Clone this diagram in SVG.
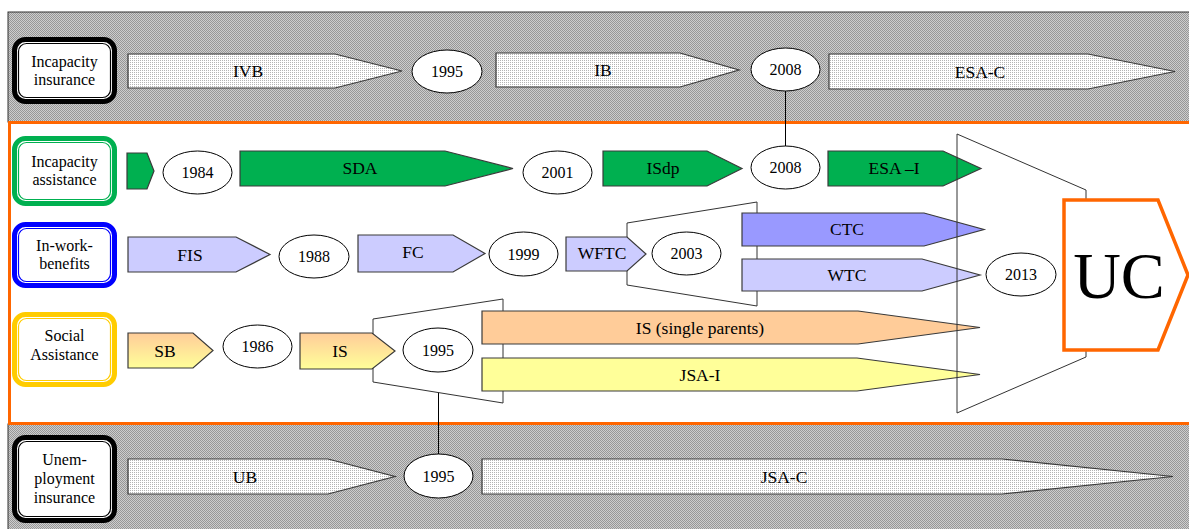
<svg xmlns="http://www.w3.org/2000/svg" width="1189" height="529" viewBox="0 0 1189 529" font-family="Liberation Serif, Tinos, DejaVu Serif, serif">
  <defs>
    <!-- dotted grey band texture -->
    <pattern id="bandDots" width="2" height="2" patternUnits="userSpaceOnUse">
      <rect width="2" height="2" fill="#cdcdcd"/>
      <rect width="1" height="1" fill="#979797"/>
      <rect x="1" y="1" width="1" height="1" fill="#979797"/>
    </pattern>
    <!-- light dotted fill for insurance arrows -->
    <pattern id="lightDots" width="2" height="2" patternUnits="userSpaceOnUse">
      <rect width="2" height="2" fill="#ffffff"/>
      <rect width="1" height="1" fill="#b4b4b4"/>
    </pattern>
    <linearGradient id="saGrad" x1="0" y1="0" x2="0" y2="1">
      <stop offset="0" stop-color="#ffcc99"/>
      <stop offset="1" stop-color="#ffff99"/>
    </linearGradient>
  </defs>
  <style>
    text { font-family: "Liberation Serif", Tinos, "DejaVu Serif", serif; fill: #000; text-anchor: middle; }
    .lbl { font-size: 16px; }
    .arr { font-size: 17.5px; }
    .yr { font-size: 16px; }
    .uc { font-size: 66px; }
    .arrow { stroke: #3a3a3a; stroke-width: 1.2; }
    .ins { fill: url(#lightDots); }
    .green { fill: #00b050; }
    .lav { fill: #ccccff; }
    .ctc { fill: #9999ff; }
    .grad { fill: url(#saGrad); }
    .peach { fill: #ffcc99; }
    .lemon { fill: #ffff99; }
    .year { fill: #fff; stroke: #000; stroke-width: 1; }
    .funnel { fill: #fff; stroke: #333; stroke-width: 1; }
    .outer { fill: #fff; stroke-width: 5; }
    .inner { fill: none; stroke-width: 1.2; }
    .link { stroke: #000; stroke-width: 1; fill: none; }
  </style>

  <!-- background bands -->
  <g id="bands">
    <rect x="8" y="12" width="1190" height="110" fill="url(#bandDots)" stroke="#333" stroke-width="1"/>
    <rect x="8" y="424" width="1190" height="110" fill="url(#bandDots)" stroke="#333" stroke-width="1"/>
    <rect x="9.5" y="122.5" width="1200" height="301" fill="#fff" stroke="#ff6600" stroke-width="3"/>
  </g>

  <!-- row labels -->
  <g id="label-incapacity-insurance">
    <rect class="outer" x="14.5" y="39.5" width="100" height="62" rx="11" stroke="#000"/>
    <rect class="inner" x="18.5" y="43.5" width="92" height="54" rx="8" stroke="#000"/>
    <text class="lbl" x="64.5" y="67">Incapacity</text>
    <text class="lbl" x="64.5" y="85">insurance</text>
  </g>
  <g id="label-incapacity-assistance">
    <rect class="outer" x="14.5" y="138.5" width="100" height="65" rx="11" stroke="#00b050"/>
    <rect class="inner" x="18.5" y="142.5" width="92" height="57" rx="8" stroke="#00b050"/>
    <text class="lbl" x="64.5" y="167">Incapacity</text>
    <text class="lbl" x="64.5" y="185">assistance</text>
  </g>
  <g id="label-in-work-benefits">
    <rect class="outer" x="14.5" y="224.5" width="100" height="61" rx="11" stroke="#0000ff"/>
    <rect class="inner" x="18.5" y="228.5" width="92" height="53" rx="8" stroke="#0000ff"/>
    <text class="lbl" x="64.5" y="251">In-work-</text>
    <text class="lbl" x="64.5" y="269">benefits</text>
  </g>
  <g id="label-social-assistance">
    <rect class="outer" x="14.5" y="314.5" width="100" height="70" rx="11" stroke="#ffcc00"/>
    <rect class="inner" x="18.5" y="318.5" width="92" height="62" rx="8" stroke="#ffcc00"/>
    <text class="lbl" x="64.5" y="341">Social</text>
    <text class="lbl" x="64.5" y="360">Assistance</text>
  </g>
  <g id="label-unemployment-insurance">
    <rect class="outer" x="14.5" y="437.5" width="100" height="83" rx="11" stroke="#000"/>
    <rect class="inner" x="18.5" y="441.5" width="92" height="75" rx="8" stroke="#000"/>
    <text class="lbl" x="64.5" y="465">Unem-</text>
    <text class="lbl" x="64.5" y="484">ployment</text>
    <text class="lbl" x="64.5" y="503">insurance</text>
  </g>

  <!-- connectors between linked years -->
  <g id="connectors">
    <line class="link" x1="785.5" y1="91" x2="785.5" y2="146"/>
    <line class="link" x1="438.5" y1="372" x2="438.5" y2="454"/>
  </g>

  <!-- merge funnels behind the benefit arrows -->
  <g id="funnel-2003">
    <polygon class="funnel" points="627,223 757,202 757,306 627,285"/>
  </g>
  <g id="funnel-1995">
    <polygon class="funnel" points="373,319 503,299 503,403 373,382"/>
  </g>

  <!-- incapacity insurance -->
  <g id="ivb">
    <polygon class="arrow ins" points="128,54 335,54 402,71 335,88 128,88"/>
    <text class="arr" x="248" y="77">IVB</text>
  </g>
  <g id="y1995-ii">
    <ellipse class="year" cx="447" cy="71.5" rx="35" ry="21.5"/>
    <text class="yr" x="447" y="77">1995</text>
  </g>
  <g id="ib">
    <polygon class="arrow ins" points="496,53 680,53 739,70 680,87 496,87"/>
    <text class="arr" x="603" y="76">IB</text>
  </g>
  <g id="y2008-ii">
    <ellipse class="year" cx="785.5" cy="69.5" rx="34.5" ry="21.5"/>
    <text class="yr" x="785.5" y="75">2008</text>
  </g>
  <g id="esa-c">
    <polygon class="arrow ins" points="829,54 1088,54 1175,71.5 1088,89 829,89"/>
    <text class="arr" x="980" y="78">ESA-C</text>
  </g>

  <!-- incapacity assistance -->
  <g id="ia-start">
    <polygon class="arrow green" points="127,153 147,153 154,171 147,189 127,189"/>
  </g>
  <g id="y1984">
    <ellipse class="year" cx="197.5" cy="172.5" rx="34.5" ry="21.5"/>
    <text class="yr" x="197.5" y="178">1984</text>
  </g>
  <g id="sda">
    <polygon class="arrow green" points="240,151 445,151 513,168.5 445,186 240,186"/>
    <text class="arr" x="360" y="174">SDA</text>
  </g>
  <g id="y2001">
    <ellipse class="year" cx="557.5" cy="172.5" rx="34.5" ry="21.5"/>
    <text class="yr" x="557.5" y="178">2001</text>
  </g>
  <g id="isdp">
    <polygon class="arrow green" points="603,151 707,151 742,168.5 707,186 603,186"/>
    <text class="arr" x="663" y="174">ISdp</text>
  </g>
  <g id="y2008-ia">
    <ellipse class="year" cx="785.5" cy="167.5" rx="34.5" ry="21.5"/>
    <text class="yr" x="785.5" y="173">2008</text>
  </g>
  <g id="esa-i">
    <polygon class="arrow green" points="828,151 943,151 981,168.5 943,186 828,186"/>
    <text class="arr" x="894" y="174">ESA –I</text>
  </g>

  <!-- in-work benefits -->
  <g id="fis">
    <polygon class="arrow lav" points="128,237 236,237 270,254.5 236,272 128,272"/>
    <text class="arr" x="190" y="261">FIS</text>
  </g>
  <g id="y1988">
    <ellipse class="year" cx="314" cy="256.5" rx="35" ry="21.5"/>
    <text class="yr" x="314" y="262">1988</text>
  </g>
  <g id="fc">
    <polygon class="arrow lav" points="358,235 453,235 485,253.5 453,272 358,272"/>
    <text class="arr" x="413" y="258">FC</text>
  </g>
  <g id="y1999">
    <ellipse class="year" cx="523.5" cy="254" rx="34.5" ry="22"/>
    <text class="yr" x="523.5" y="259.5">1999</text>
  </g>
  <g id="wftc">
    <polygon class="arrow lav" points="566,237 627,237 646,254 627,271 566,271"/>
    <text class="arr" x="602" y="259">WFTC</text>
  </g>
  <g id="y2003">
    <ellipse class="year" cx="686.5" cy="253.5" rx="34.5" ry="21.5"/>
    <text class="yr" x="686.5" y="259">2003</text>
  </g>
  <g id="ctc">
    <polygon class="arrow ctc" points="742,213 924,213 984,229.5 924,246 742,246"/>
    <text class="arr" x="847" y="235">CTC</text>
  </g>
  <g id="wtc">
    <polygon class="arrow lav" points="742,259 922,259 980,275 922,291 742,291"/>
    <text class="arr" x="847" y="281">WTC</text>
  </g>

  <!-- social assistance -->
  <g id="sb">
    <polygon class="arrow grad" points="128,333 193,333 213,350.5 193,368 128,368"/>
    <text class="arr" x="165" y="357">SB</text>
  </g>
  <g id="y1986">
    <ellipse class="year" cx="257.5" cy="346.5" rx="34.5" ry="21.5"/>
    <text class="yr" x="257.5" y="352">1986</text>
  </g>
  <g id="is">
    <polygon class="arrow grad" points="300,333 372,333 395,351 372,369 300,369"/>
    <text class="arr" x="340" y="357">IS</text>
  </g>
  <g id="y1995-sa">
    <ellipse class="year" cx="438" cy="350" rx="35" ry="22"/>
    <text class="yr" x="438" y="355.5">1995</text>
  </g>
  <g id="is-single-parents">
    <polygon class="arrow peach" points="482,311 858,311 980,327.5 858,344 482,344"/>
    <text class="arr" x="700" y="334">IS (single parents)</text>
  </g>
  <g id="jsa-i">
    <polygon class="arrow lemon" points="482,358 857,358 980,374.5 857,391 482,391"/>
    <text class="arr" x="700" y="381">JSA-I</text>
  </g>

  <!-- unemployment insurance -->
  <g id="ub">
    <polygon class="arrow ins" points="128,459 328,459 395,476.5 328,494 128,494"/>
    <text class="arr" x="245" y="483">UB</text>
  </g>
  <g id="y1995-ui">
    <ellipse class="year" cx="438.5" cy="476" rx="34.5" ry="22"/>
    <text class="yr" x="438.5" y="481.5">1995</text>
  </g>
  <g id="jsa-c">
    <polygon class="arrow ins" points="482,459 1002,459 1173,476.5 1002,494 482,494"/>
    <text class="arr" x="784" y="483">JSA-C</text>
  </g>

  <!-- final merge into Universal Credit -->
  <g id="funnel-2013">
    <polygon points="957,134 1086,190 1086,357 957,413" fill="none" stroke="#333" stroke-width="1"/>
  </g>
  <g id="y2013">
    <ellipse class="year" cx="1021" cy="274.5" rx="35" ry="21.5"/>
    <text class="yr" x="1021" y="280">2013</text>
  </g>
  <g id="uc">
    <polygon points="1064,200 1158,200 1188,275 1158,350 1064,350" fill="#fff" stroke="#ff6600" stroke-width="3.5"/>
    <text class="uc" x="1119" y="298">UC</text>
  </g>
</svg>
